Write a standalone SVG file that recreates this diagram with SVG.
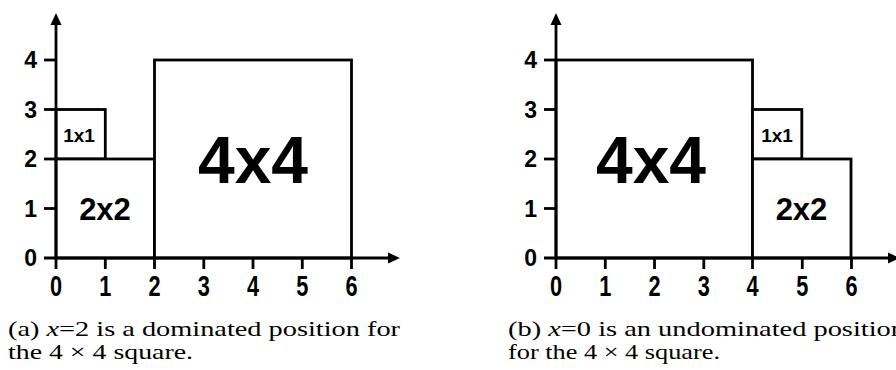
<svg xmlns="http://www.w3.org/2000/svg" width="896" height="370" viewBox="0 0 896 370">
<style>
.box{fill:#ffffff;stroke:#000;stroke-width:2.8}
.ax{stroke:#000;stroke-width:2.8;fill:none}
.tk{stroke:#000;stroke-width:2.8}
.lab{font-family:"Liberation Sans",Arial,sans-serif;font-weight:bold;fill:#000;text-anchor:middle}
.yl{font-family:"Liberation Sans",Arial,sans-serif;font-weight:bold;font-size:23px;fill:#000;text-anchor:end}
.xl{font-family:"Liberation Sans",Arial,sans-serif;font-weight:bold;font-size:29px;fill:#000;text-anchor:middle}
.cap{font-family:'Liberation Serif','Times New Roman',serif;font-size:21px;fill:#000}
</style>
<defs>
<marker id="arr" viewBox="0 -6 12 12" refX="0" refY="0" markerWidth="12" markerHeight="12" markerUnits="userSpaceOnUse" orient="auto">
<path d="M0,-5.5 L12,0 L0,5.5 z" fill="#000"/>
</marker>
</defs>

<!-- Panel (a) -->
<g id="a-rect-1x1"><rect class="box" x="56" y="109.5" width="49.3" height="49.5"/><text class="lab" x="79" y="142" font-size="19">1x1</text></g>
<g id="a-rect-2x2"><rect class="box" x="56" y="159" width="98.5" height="99"/><text class="lab" x="105" y="220" font-size="31">2x2</text></g>
<g id="a-rect-4x4"><rect class="box" x="154.5" y="60" width="197" height="198"/><text class="lab" x="253" y="183" font-size="66">4x4</text></g>

<g id="a-axes">
<line class="ax" x1="56" y1="269" x2="56" y2="25" marker-end="url(#arr)"/>
<line class="ax" x1="44" y1="258" x2="388" y2="258" marker-end="url(#arr)"/>
<line class="tk" x1="44" y1="208.5" x2="56" y2="208.5"/>
<line class="tk" x1="44" y1="159" x2="56" y2="159"/>
<line class="tk" x1="44" y1="109.5" x2="56" y2="109.5"/>
<line class="tk" x1="44" y1="60" x2="56" y2="60"/>
<line class="tk" x1="105.3" y1="258" x2="105.3" y2="269"/>
<line class="tk" x1="154.5" y1="258" x2="154.5" y2="269"/>
<line class="tk" x1="203.8" y1="258" x2="203.8" y2="269"/>
<line class="tk" x1="253" y1="258" x2="253" y2="269"/>
<line class="tk" x1="302.3" y1="258" x2="302.3" y2="269"/>
<line class="tk" x1="351.5" y1="258" x2="351.5" y2="269"/>
</g>
<g id="a-labels">
<text class="yl" x="37" y="266">0</text>
<text class="yl" x="37" y="216.5">1</text>
<text class="yl" x="37" y="167">2</text>
<text class="yl" x="37" y="117.5">3</text>
<text class="yl" x="37" y="68">4</text>
<text class="xl" transform="translate(56 296) scale(0.75 1)">0</text>
<text class="xl" transform="translate(105.3 296) scale(0.75 1)">1</text>
<text class="xl" transform="translate(154.5 296) scale(0.75 1)">2</text>
<text class="xl" transform="translate(203.8 296) scale(0.75 1)">3</text>
<text class="xl" transform="translate(253 296) scale(0.75 1)">4</text>
<text class="xl" transform="translate(302.3 296) scale(0.75 1)">5</text>
<text class="xl" transform="translate(351.5 296) scale(0.75 1)">6</text>
</g>
<g id="a-caption">
<text class="cap" x="8" y="336" textLength="392" lengthAdjust="spacingAndGlyphs">(a) <tspan font-style="italic">x</tspan>=2 is a dominated position for</text>
<text class="cap" x="8" y="359" textLength="185" lengthAdjust="spacingAndGlyphs">the 4 × 4 square.</text>
</g>

<!-- Panel (b) -->
<g id="b-rect-4x4"><rect class="box" x="556" y="60" width="196.5" height="198"/><text class="lab" x="651" y="183" font-size="66">4x4</text></g>
<g id="b-rect-1x1"><rect class="box" x="752.5" y="109.5" width="49.3" height="49.5"/><text class="lab" x="777" y="142" font-size="19">1x1</text></g>
<g id="b-rect-2x2"><rect class="box" x="752.5" y="159" width="98.5" height="99"/><text class="lab" x="801.5" y="220" font-size="31">2x2</text></g>

<g id="b-axes">
<line class="ax" x1="556" y1="269" x2="556" y2="25" marker-end="url(#arr)"/>
<line class="ax" x1="544" y1="258" x2="888" y2="258" marker-end="url(#arr)"/>
<line class="tk" x1="544" y1="208.5" x2="556" y2="208.5"/>
<line class="tk" x1="544" y1="159" x2="556" y2="159"/>
<line class="tk" x1="544" y1="109.5" x2="556" y2="109.5"/>
<line class="tk" x1="544" y1="60" x2="556" y2="60"/>
<line class="tk" x1="605.3" y1="258" x2="605.3" y2="269"/>
<line class="tk" x1="654.5" y1="258" x2="654.5" y2="269"/>
<line class="tk" x1="703.8" y1="258" x2="703.8" y2="269"/>
<line class="tk" x1="752.5" y1="258" x2="752.5" y2="269"/>
<line class="tk" x1="802.3" y1="258" x2="802.3" y2="269"/>
<line class="tk" x1="851.5" y1="258" x2="851.5" y2="269"/>
</g>
<g id="b-labels">
<text class="yl" x="537" y="266">0</text>
<text class="yl" x="537" y="216.5">1</text>
<text class="yl" x="537" y="167">2</text>
<text class="yl" x="537" y="117.5">3</text>
<text class="yl" x="537" y="68">4</text>
<text class="xl" transform="translate(556 296) scale(0.75 1)">0</text>
<text class="xl" transform="translate(605.3 296) scale(0.75 1)">1</text>
<text class="xl" transform="translate(654.5 296) scale(0.75 1)">2</text>
<text class="xl" transform="translate(703.8 296) scale(0.75 1)">3</text>
<text class="xl" transform="translate(752.5 296) scale(0.75 1)">4</text>
<text class="xl" transform="translate(802.3 296) scale(0.75 1)">5</text>
<text class="xl" transform="translate(851.5 296) scale(0.75 1)">6</text>
</g>
<g id="b-caption">
<text class="cap" x="508" y="336" textLength="397" lengthAdjust="spacingAndGlyphs">(b) <tspan font-style="italic">x</tspan>=0 is an undominated position</text>
<text class="cap" x="508" y="359" textLength="212" lengthAdjust="spacingAndGlyphs">for the 4 × 4 square.</text>
</g>
</svg>
